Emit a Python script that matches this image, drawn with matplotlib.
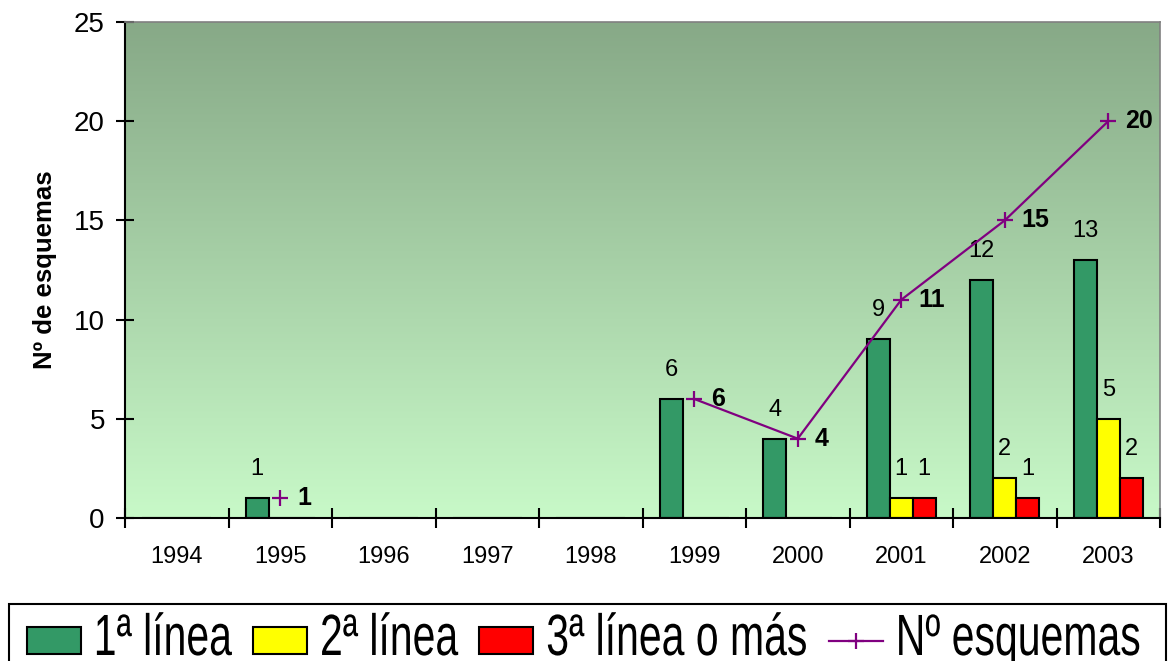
import matplotlib
matplotlib.use("Agg")
import matplotlib.pyplot as plt
import numpy as np
from matplotlib.patches import Rectangle
from matplotlib.patheffects import AbstractPathEffect
from matplotlib.transforms import Affine2D

plt.rcParams['font.family'] = ['Liberation Sans', 'DejaVu Sans']

anios = ['1994', '1995', '1996', '1997', '1998', '1999', '2000', '2001', '2002', '2003']
linea1 = [0, 1, 0, 0, 0, 6, 4, 9, 12, 13]
linea2 = [0, 0, 0, 0, 0, 0, 0, 1, 2, 5]
linea3 = [0, 0, 0, 0, 0, 0, 0, 1, 1, 2]
esquemas = [np.nan, 1, np.nan, np.nan, np.nan, 6, 4, 11, 15, 20]


class Estirar(AbstractPathEffect):
    # alarga el texto en vertical desde su linea base
    def __init__(self, k):
        super().__init__()
        self.k = k

    def draw_path(self, renderer, gc, tpath, affine, rgbFace=None):
        x0, y0 = affine.transform((0, 0))
        t = affine + Affine2D().translate(-x0, -y0).scale(1, self.k).translate(x0, y0)
        renderer.draw_path(gc, tpath, t, rgbFace)


fig = plt.figure(figsize=(11.68, 6.61), dpi=100)
ax = fig.add_axes([125/1168, 1-518/661, 1035/1168, 496/661])

# fondo degradado verde
grad = np.linspace(0, 1, 256).reshape(-1, 1)
top = np.array([0x87, 0xa9, 0x87]) / 255
bot = np.array([0xc8, 0xf9, 0xc8]) / 255
img = top + (bot - top) * grad[..., None]
ax.imshow(img, extent=[0, 1, 0, 1], transform=ax.transAxes, aspect='auto', zorder=0)

x = np.arange(len(anios))
w = 0.222
b1 = ax.bar(x - w, linea1, w, color='#339966', edgecolor='black', linewidth=1.5, zorder=2, label='1ª línea')
b2 = ax.bar(x, linea2, w, color='#ffff00', edgecolor='black', linewidth=1.5, zorder=2, label='2ª línea')
b3 = ax.bar(x + w, linea3, w, color='#ff0000', edgecolor='black', linewidth=1.5, zorder=2, label='3ª línea o más')

for bars in (b1, b2, b3):
    labs = [str(int(v)) if v > 0 else '' for v in bars.datavalues]
    ax.bar_label(bars, labels=labs, padding=13, fontsize=17)

ln, = ax.plot(x, esquemas, color='#800080', lw=1.6, marker='+', ms=11, mew=1.6, zorder=3, label='Nº esquemas')
for xi, v in zip(x, esquemas):
    if not np.isnan(v):
        ax.annotate(str(int(v)), (xi, v), xytext=(12, 0), textcoords='offset points',
                    va='center', ha='left', fontsize=18, fontweight='bold')

ax.set_xlim(-0.5, 9.5)
ax.set_ylim(0, 25)
ax.set_yticks([0, 5, 10, 15, 20, 25])
ax.set_xticks(np.arange(-0.5, 10, 1))
ax.set_xticklabels([])
ax.set_xticks(x, minor=True)
ax.set_xticklabels(anios, minor=True)
ax.tick_params(axis='x', which='major', direction='inout', length=14, width=1.5)
ax.tick_params(axis='x', which='minor', length=0, pad=20, labelsize=17)
ax.tick_params(axis='y', direction='inout', length=13, width=1.5, pad=8, labelsize=20)

for s in ('left', 'bottom'):
    ax.spines[s].set_linewidth(1.5)
    ax.spines[s].set_color('black')
for s in ('top', 'right'):
    ax.spines[s].set_linewidth(1.2)
    ax.spines[s].set_color('#808080')

ax.set_ylabel('Nº de esquemas', fontsize=18.5, fontweight='bold', labelpad=12)

# leyenda inferior con marco
fig.patches.append(Rectangle((9/1168, -0.01), 1157/1168, 57/661 + 0.01, transform=fig.transFigure,
                             fill=False, edgecolor='black', linewidth=1.5))
tam_ley = 29.5
em = tam_ley * 100 / 72
ley = fig.legend(handles=[b1, b2, b3, ln], loc='center', bbox_to_anchor=(584/1168, 17/661),
                 ncol=4, frameon=False, fontsize=tam_ley,
                 handlelength=54/em, handleheight=27/em, handletextpad=13/em,
                 columnspacing=21/em, borderaxespad=0, borderpad=0)
for t in ley.get_texts():
    t.set_path_effects([Estirar(1.42)])

fig.savefig('out.png', dpi=100)
